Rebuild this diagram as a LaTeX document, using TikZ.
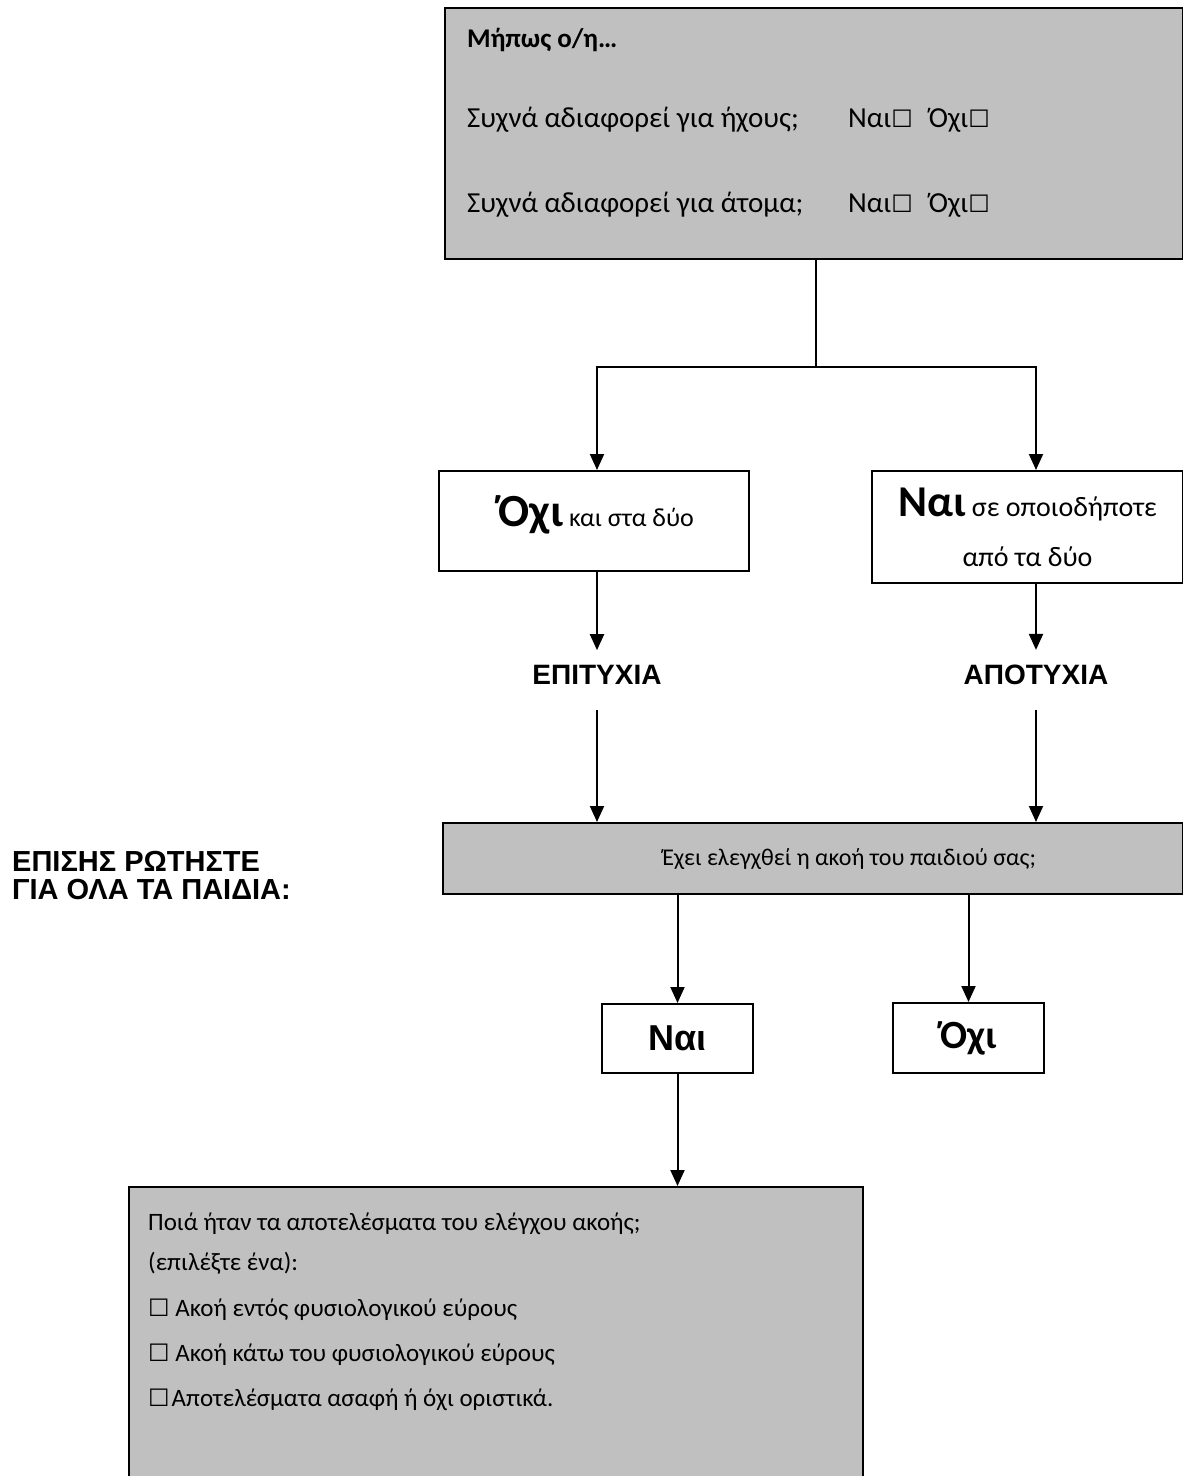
\documentclass[tikz,border=0pt]{standalone}
\usepackage{fontspec}
\setmainfont{Carlito}
\newfontfamily\arialfont{Liberation Sans}
\newfontfamily\boxfont{DejaVu Sans}
\usetikzlibrary{arrows.meta,positioning}
\definecolor{boxgray}{HTML}{C0C0C0}
\newcommand{\tickbox}{{\boxfont\fontsize{24}{24}\selectfont ☐}}
\tikzset{
  graybox/.style={draw, fill=boxgray, line width=2.4pt, inner sep=0pt},
  whitebox/.style={draw, fill=white, line width=2pt, inner sep=0pt},
  conn/.style={line width=2pt},
  arr/.style={conn, -{Triangle[length=16pt, width=14pt]}},
  body/.style={font=\fontsize{25}{32}\selectfont, inner sep=0pt},
  rowtext/.style={font=\fontsize{29}{32}\selectfont, inner sep=0pt},
  caps/.style={font=\arialfont\bfseries\fontsize{28}{28}\selectfont, inner sep=0pt},
}
\begin{document}
\begin{tikzpicture}[x=1pt,y=-1pt]
  \useasboundingbox (0,0) rectangle (1183,1476);
  % screening questions
  \node[graybox, minimum width=738pt, minimum height=251pt, anchor=north west] (screen) at (444,7) {};
  \node[rowtext, font=\bfseries\fontsize{27}{32}\selectfont, anchor=base west] (title) at (467,47) {Μήπως ο/η…};
  \node[rowtext, anchor=base west] (sounds) at (467,127) {Συχνά αδιαφορεί για ήχους;};
  \node[rowtext, anchor=base west] (soundsans) at (848,127) {Ναι\tickbox\hspace{16pt}Όχι\tickbox};
  \node[rowtext, anchor=base west] (people) at (467,212) {Συχνά αδιαφορεί για άτομα;};
  \node[rowtext, anchor=base west] (peopleans) at (848,212) {Ναι\tickbox\hspace{16pt}Όχι\tickbox};
  \coordinate (split) at (816,367);
  % answers
  \node[whitebox, minimum width=310pt, minimum height=100pt, anchor=north west] (bothno) at (438,470) {};
  \node[inner sep=0pt, font=\fontsize{26}{32}\selectfont, anchor=base] (bothnotext) at (596,526)
    {{\bfseries\fontsize{46}{46}\selectfont Όχι} και στα δύο};
  \node[whitebox, font=\fontsize{28}{50}\selectfont, align=center, minimum width=311pt, minimum height=112pt, anchor=north west] (anyyes) at (871,470)
    {{\bfseries\fontsize{44}{44}\selectfont Ναι} σε οποιοδήποτε\\από τα δύο};
  \node[caps] (success) at (597,675) {ΕΠΙΤΥΧΙΑ};
  \node[caps] (failure) at (1036,675) {ΑΠΟΤΥΧΙΑ};
  \draw[conn] (screen.south -| split) -- (split);
  \draw[arr] (split) -| (success.north |- bothno.north);
  \draw[arr] (split) -| (failure.north |- anyyes.north);
  \draw[arr] (success.north |- bothno.south) -- ([yshift=15pt]success.north);
  \draw[arr] (failure.north |- anyyes.south) -- ([yshift=15pt]failure.north);
  % hearing check
  \node[graybox, minimum width=740pt, minimum height=71pt, anchor=north west] (heard) at (442,822) {};
  \node[body, font=\fontsize{24}{32}\selectfont] (heardq) at ([xshift=36pt]heard.center) {Έχει ελεγχθεί η ακοή του παιδιού σας;};
  \node[caps, font=\arialfont\bfseries\fontsize{29}{28}\selectfont, align=left, anchor=north west] (allkids) at (12,851) {ΕΠΙΣΗΣ ΡΩΤΗΣΤΕ\\ΓΙΑ ΟΛΑ ΤΑ ΠΑΙΔΙΑ:};
  \draw[arr] ([yshift=-25pt]success.south) -- (success.south |- heard.north);
  \draw[arr] ([yshift=-25pt]failure.south) -- (failure.south |- heard.north);
  \node[whitebox, font=\arialfont\bfseries\fontsize{36}{36}\selectfont, minimum width=151pt, minimum height=69pt, anchor=north west] (yesbox) at (601,1003) {Ναι};
  \node[whitebox, font=\bfseries\fontsize{40}{40}\selectfont, minimum width=151pt, minimum height=70pt, anchor=north west] (nobox) at (892,1002) {Όχι};
  \draw[arr] (heard.south -| yesbox) -- (yesbox);
  \draw[arr] (heard.south -| nobox) -- (nobox);
  % results
  \node[graybox, minimum width=734pt, minimum height=292pt, anchor=north west] (results) at (128,1186) {};
  \draw[arr] (yesbox) -- (yesbox |- results.north);
  \node[body, anchor=base west] (resq) at (148,1230) {Ποιά ήταν τα αποτελέσματα του ελέγχου ακοής;};
  \node[body, anchor=base west] (resnote) at (148,1270) {(επιλέξτε ένα):};
  \node[body, anchor=base west] (resin) at (148,1316) {\tickbox\ Ακοή εντός φυσιολογικού εύρους};
  \node[body, anchor=base west] (resbelow) at (148,1361) {\tickbox\ Ακοή κάτω του φυσιολογικού εύρους};
  \node[body, anchor=base west] (resunclear) at (148,1406) {\tickbox\hspace{2pt}Αποτελέσματα ασαφή ή όχι οριστικά.};
\end{tikzpicture}
\end{document}
